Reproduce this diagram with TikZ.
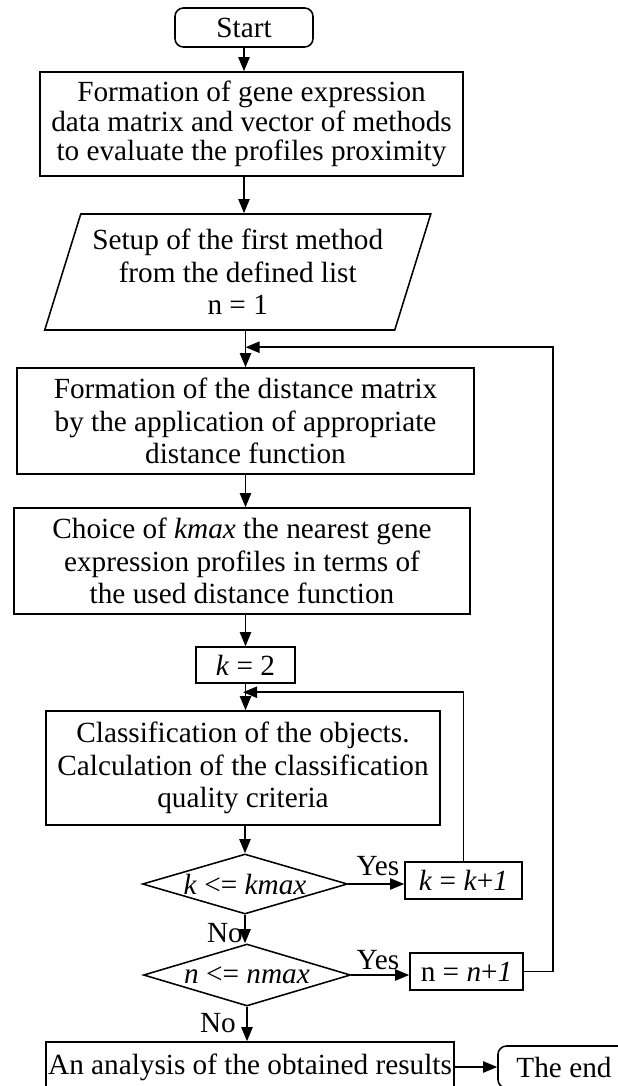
\documentclass[tikz,border=0pt]{standalone}
\usepackage{fontspec}
\setmainfont{Liberation Serif}
\usetikzlibrary{shapes.geometric,arrows.meta}

\begin{document}
\begin{tikzpicture}[
    x=0.025cm, y=-0.025cm,
    every node/.style={
        font=\fontsize{20.8}{23}\selectfont,
        align=center
    },
    process/.style={
        rectangle,
        draw,
        line width=1.1pt,
        inner sep=2pt
    },
    terminal/.style={
        rectangle,
        rounded corners=6pt,
        draw,
        line width=1.1pt
    },
    io/.style={
        trapezium,
        trapezium left angle=70,
        trapezium right angle=110,
        trapezium stretches=true,
        draw,
        line width=1.1pt
    },
    decision/.style={
        diamond,
        aspect=3.4,
        inner sep=0pt,
        draw,
        line width=1.1pt
    },
    lbl/.style={inner sep=0pt},
    flow/.style={
        line width=1.1pt,
        -{Triangle[length=10pt,width=8pt]}
    }
]
\useasboundingbox (0,0) rectangle (618,1086);
\clip (0,0) rectangle (618,1086);

% Main column
\node[terminal, minimum width=3.45cm, minimum height=0.975cm] (start) at (244,27.5) {Start};
\node[process, minimum width=10.575cm, minimum height=2.6cm,
      font=\fontsize{20.8}{21}\selectfont] (form) at (251.5,124)
    {Formation of gene expression\\data matrix and vector of methods\\to evaluate the profiles proximity};
\node[io, minimum width=9.675cm, minimum height=2.9cm] (setup) at (237.75,272)
    {Setup of the first method\\from the defined list\\n = 1};
\node[process, minimum width=11.425cm, minimum height=2.65cm] (dist) at (245.5,421)
    {Formation of the distance matrix\\by the application of appropriate\\distance function};
\node[process, minimum width=11.4cm, minimum height=2.65cm] (choice) at (242,561)
    {Choice of \textit{kmax} the nearest gene\\expression profiles in terms of\\the used distance function};
\node[process, minimum width=2.475cm, minimum height=0.9cm] (kinit) at (245.5,665)
    {\textit{k} = 2};
\node[process, minimum width=9.85cm, minimum height=2.85cm] (classif) at (243,768)
    {Classification of the objects.\\Calculation of the classification\\quality criteria};

% Decisions
\node[decision, minimum width=5.125cm, minimum height=1.5cm] (kcheck) at (245,884)
    {\textit{k} <= \textit{kmax}};
\node[process, minimum width=2.925cm, minimum height=0.925cm] (kinc) at (463.5,880.5)
    {\textit{k} = \textit{k}+\textit{1}};
\node[decision, minimum width=5.175cm, minimum height=1.55cm] (ncheck) at (247,975)
    {\textit{n} <= \textit{nmax}};
\node[process, minimum width=2.825cm, minimum height=0.925cm] (ninc) at (466.5,971.5)
    {n = \textit{n}+\textit{1}};

% End
\node[process, minimum width=10.2cm, minimum height=1.25cm, inner sep=0pt] (analysis) at (250,1067)
    {An analysis of the obtained results};
\node[terminal, minimum width=3.3cm, minimum height=1.05cm] (theend) at (564,1067) {The end};

% Labels
\node[lbl] (yes1) at (378,866) {Yes};
\node[lbl] (no1) at (225,933) {No};
\node[lbl] (yes2) at (378,960) {Yes};
\node[lbl] (no2) at (218,1023) {No};

% Loop junctions
\coordinate (jn) at ([yshift=0.5cm]dist.north);
\coordinate (jk) at ([yshift=0.45cm]classif.north);

% Connectors
\draw[flow] (start.south) -- (start.south |- form.north);
\draw[flow] (start.south |- form.south) -- (start.south |- setup.north);
\draw[flow] (setup.south -| dist.north) -- (dist.north);
\draw[flow] (dist.south) -- (dist.south |- choice.north);
\draw[flow] (kinit.north |- choice.south) -- (kinit.north);
\draw[flow] (kinit.south) -- (kinit.south |- classif.north);
\draw[flow] (classif.south -| kcheck.north) -- (kcheck.north);
\draw[flow] (kcheck.east) -- (kcheck.east -| kinc.west);
\draw[flow] (kcheck.south) -- (kcheck.south |- ncheck.north);
\draw[flow] (ncheck.east) -- (ncheck.east -| ninc.west);
\draw[flow] (ncheck.south) -- (ncheck.south |- analysis.north);
\draw[flow] (analysis.east) -- (theend.west);
\draw[flow] (kinc.north) |- (jk);
\draw[flow] (ninc.east) -- ++(29,0) |- (jn);

\end{tikzpicture}
\end{document}
